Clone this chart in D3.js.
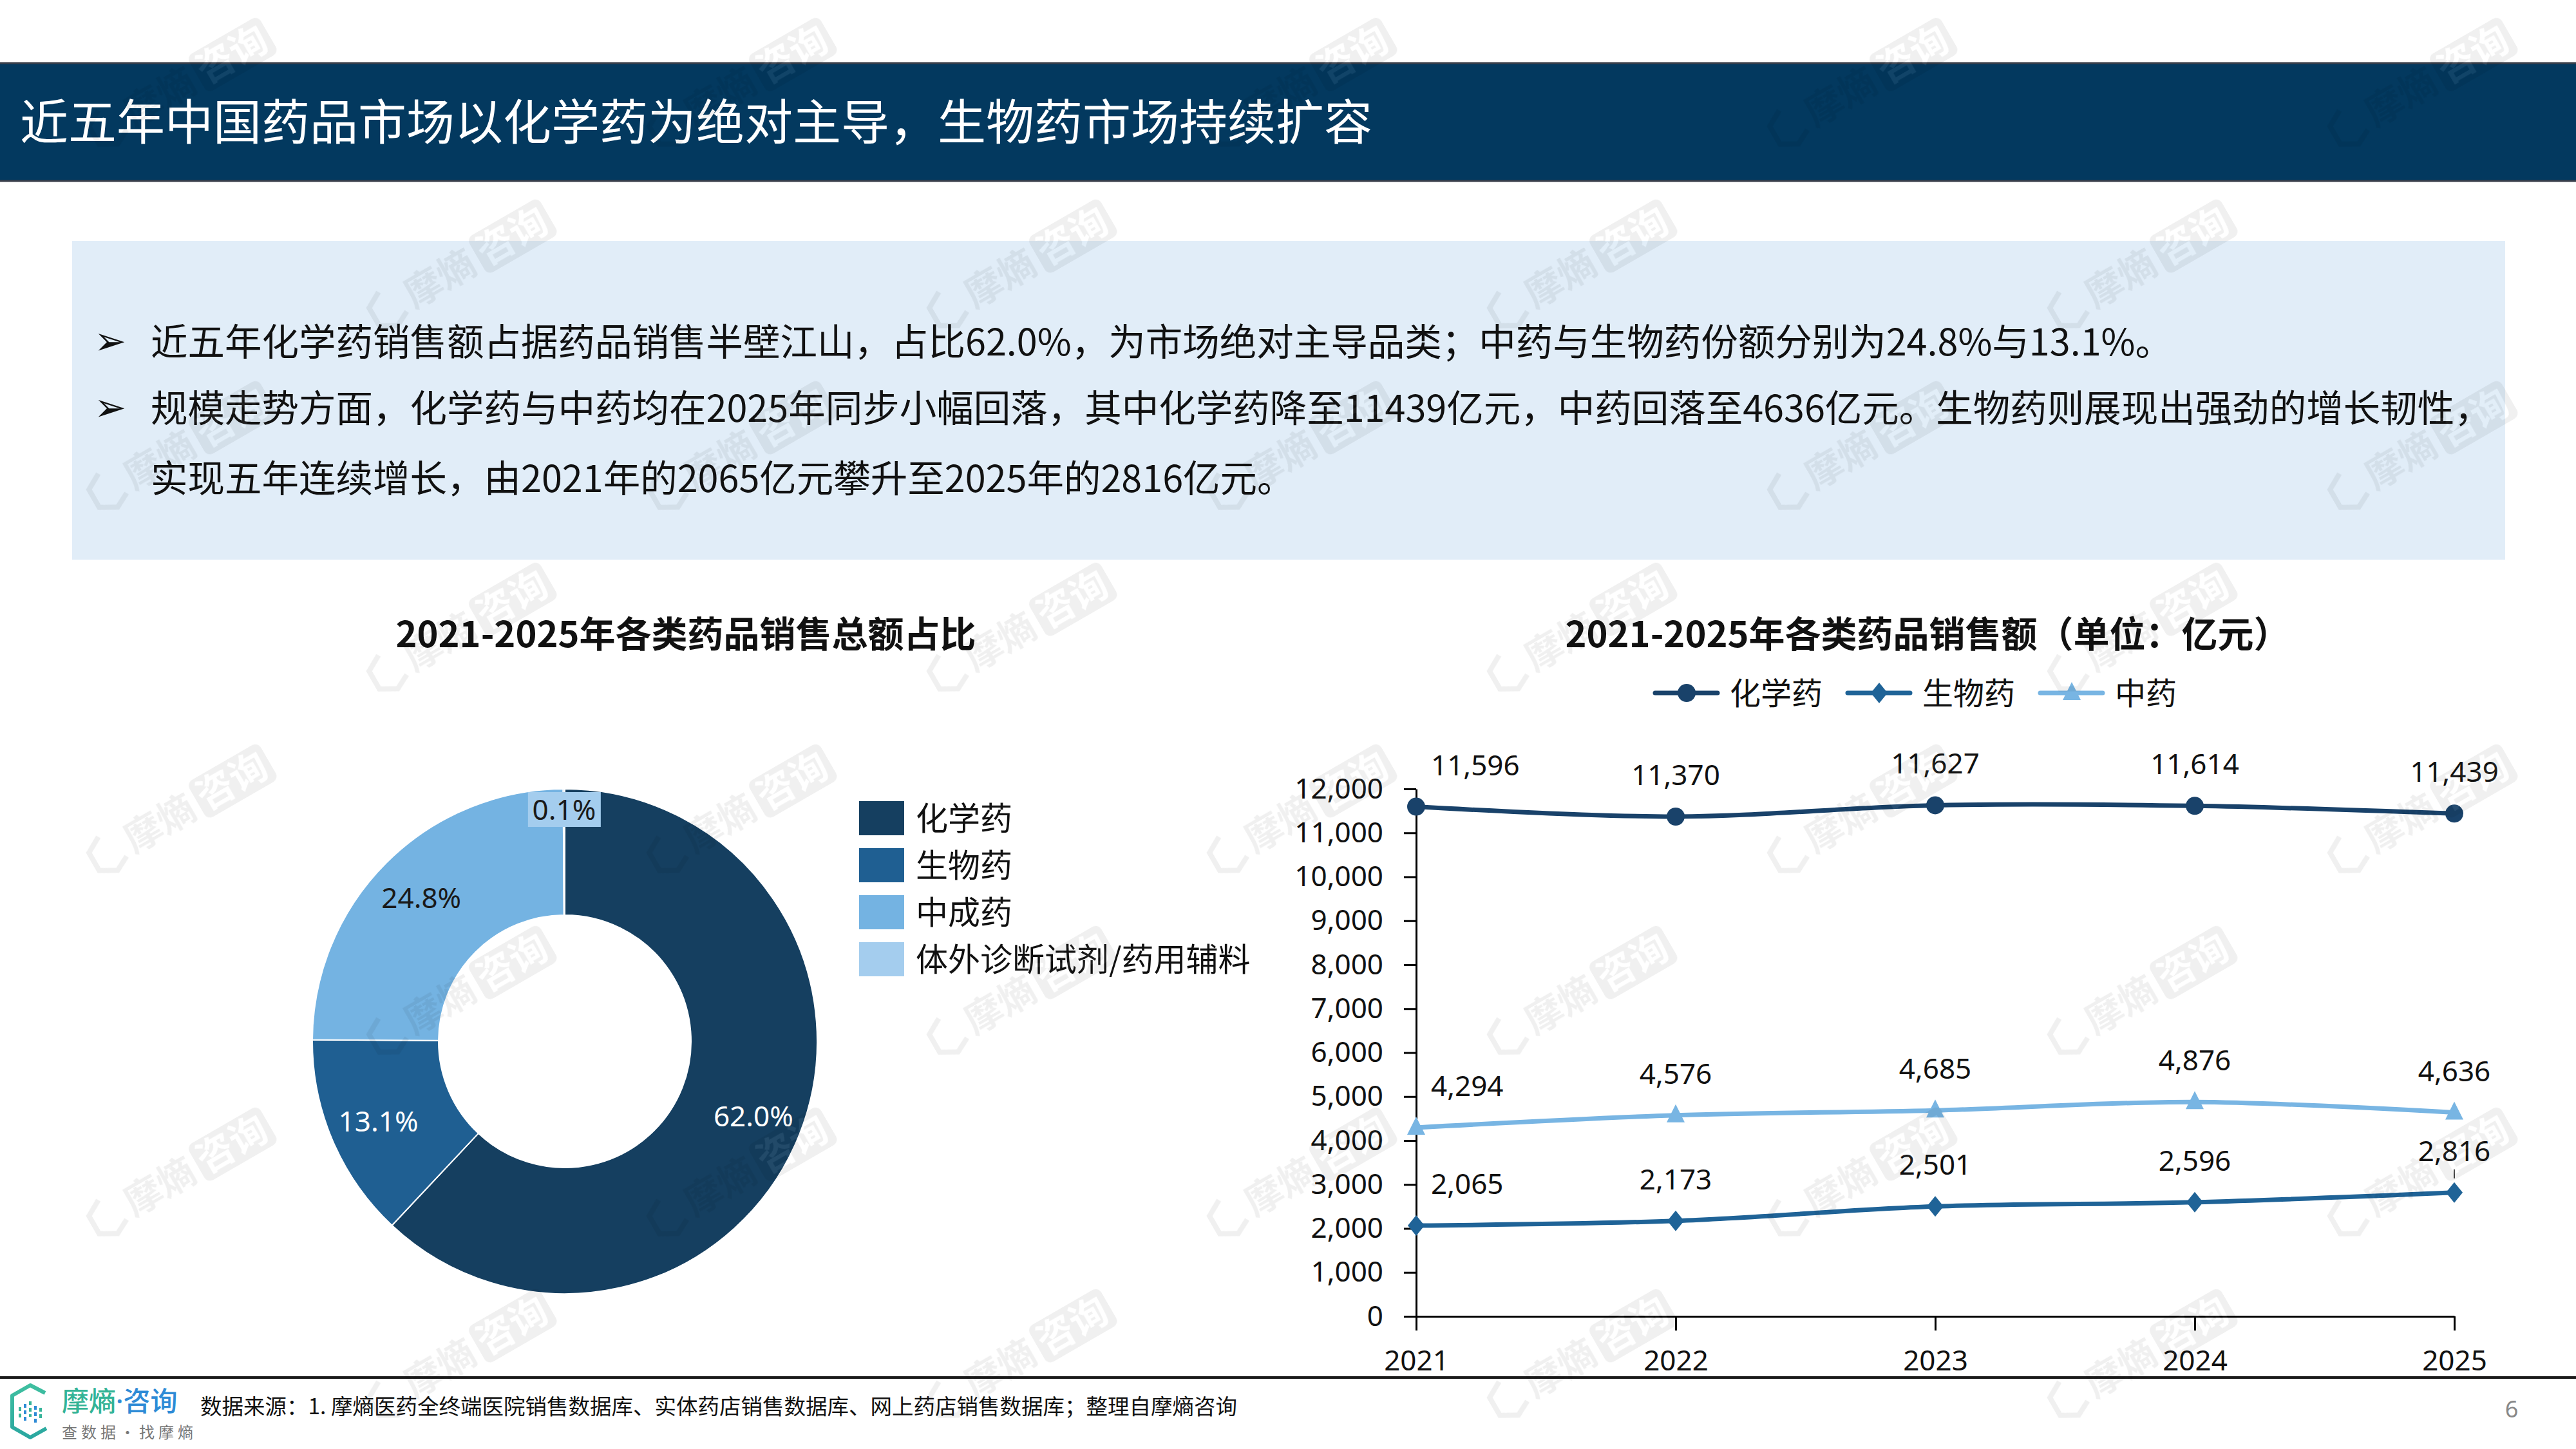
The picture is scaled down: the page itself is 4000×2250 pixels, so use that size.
<!DOCTYPE html>
<html>
<head>
<meta charset="utf-8">
<script src="https://cdn.jsdelivr.net/npm/d3@7"></script>
<style>
  body { margin: 0; background: #fff; }
  svg { display: block; }
</style>
</head>
<body>
<script>
// ---- data ----
const pageTitle = "近五年中国药品市场以化学药为绝对主导，生物药市场持续扩容";
const bulletLines = [
  { bullet: true,  text: "近五年化学药销售额占据药品销售半壁江山，占比62.0%，为市场绝对主导品类；中药与生物药份额分别为24.8%与13.1%。" },
  { bullet: true,  text: "规模走势方面，化学药与中药均在2025年同步小幅回落，其中化学药降至11439亿元，中药回落至4636亿元。生物药则展现出强劲的增长韧性，" },
  { bullet: false, text: "实现五年连续增长，由2021年的2065亿元攀升至2025年的2816亿元。" }
];

const pieTitle = "2021-2025年各类药品销售总额占比";
const shareCategories = ["化学药", "生物药", "中成药", "体外诊断试剂/药用辅料"];
const shareValues = [62.0, 13.1, 24.8, 0.1];
const shareColors = ["#153F60", "#1F5F92", "#74B3E2", "#A4CDEE"];

const lineTitle = "2021-2025年各类药品销售额（单位：亿元）";
const years = ["2021", "2022", "2023", "2024", "2025"];
const seriesNames = ["化学药", "生物药", "中药"];
const chemValues = [11596, 11370, 11627, 11614, 11439];
const bioValues = [2065, 2173, 2501, 2596, 2816];
const tcmValues = [4294, 4576, 4685, 4876, 4636];
const seriesColors = ["#19426A", "#1F6397", "#78B5E3"];
const seriesMarkers = ["circle", "diamond", "triangle"];
const yTicks = d3.range(0, 12001, 1000);

const sourceText = "数据来源：1. 摩熵医药全终端医院销售数据库、实体药店销售数据库、网上药店销售数据库；整理自摩熵咨询";
const pageNumber = "6";

// ---- page ----
const W = 4000, H = 2250;
const CJK = "'Noto Sans CJK SC', 'Noto Sans', sans-serif";
const NUM = "'Noto Sans', 'Noto Sans CJK SC', sans-serif";

const svg = d3.select("body").append("svg")
  .attr("width", W).attr("height", H)
  .attr("viewBox", [0, 0, W, H]);

svg.append("rect").attr("width", W).attr("height", H).attr("fill", "#fff");

// title bar
svg.append("rect").attr("x", 0).attr("y", 97).attr("width", W).attr("height", 185).attr("fill", "#03395F");
svg.append("line").attr("x1", 0).attr("x2", W).attr("y1", 98).attr("y2", 98).attr("stroke", "#3a3f4a").attr("stroke-width", 3);
svg.append("line").attr("x1", 0).attr("x2", W).attr("y1", 281).attr("y2", 281).attr("stroke", "#3a3f4a").attr("stroke-width", 3);
svg.append("text")
  .attr("x", 31).attr("y", 217)
  .attr("font-family", CJK).attr("font-size", 75).attr("fill", "#fff")
  .text(pageTitle);

// summary box
svg.append("rect").attr("x", 112).attr("y", 374).attr("width", 3778).attr("height", 495).attr("fill", "#E1EDF8");
const bulletY = [552, 655, 764];
bulletLines.forEach(function(d, i) {
  if (d.bullet) {
    svg.append("text")
      .attr("x", 146).attr("y", bulletY[i] - 2)
      .attr("font-family", "'DejaVu Sans', sans-serif").attr("font-size", 60).attr("fill", "#111")
      .text("\u27A2");
  }
  svg.append("text")
    .attr("x", 234).attr("y", bulletY[i])
    .attr("font-family", CJK).attr("font-size", 57.5).attr("fill", "#111")
    .text(d.text);
});

// ---- donut ----
svg.append("text")
  .attr("x", 1065).attr("y", 1005)
  .attr("text-anchor", "middle")
  .attr("font-family", CJK).attr("font-size", 56).attr("font-weight", 700).attr("fill", "#111")
  .text(pieTitle);

const donut = svg.append("g").attr("transform", "translate(877,1617)");
const pie = d3.pie().sort(null).value(function(d) { return d; });
const arcs = pie(shareValues);
const arc = d3.arc().innerRadius(196).outerRadius(392);

donut.selectAll("path")
  .data(arcs)
  .enter().append("path")
  .attr("d", arc)
  .attr("fill", function(d, i) { return shareColors[i]; })
  .attr("stroke", "#fff")
  .attr("stroke-width", 2);

const labelArc = d3.arc().innerRadius(315).outerRadius(315);
const smallArc = d3.arc().innerRadius(360).outerRadius(360);
const labelFill = ["#fff", "#fff", "#1a1a1a", "#1a1a1a"];

arcs.forEach(function(d, i) {
  const small = shareValues[i] < 1;
  const c = (small ? smallArc : labelArc).centroid(d);
  const txt = shareValues[i].toFixed(1) + "%";
  if (small) {
    donut.append("rect")
      .attr("x", c[0] - 56).attr("y", c[1] - 27)
      .attr("width", 113).attr("height", 54)
      .attr("fill", shareColors[i]);
  }
  donut.append("text")
    .attr("x", c[0]).attr("y", c[1])
    .attr("dy", "0.36em")
    .attr("text-anchor", "middle")
    .attr("font-family", NUM).attr("font-size", 44)
    .attr("fill", labelFill[i])
    .text(txt);
});

// donut legend
const pieLegend = svg.append("g").attr("transform", "translate(1334,1244)");
shareCategories.forEach(function(name, i) {
  const g = pieLegend.append("g").attr("transform", "translate(0," + (i * 73) + ")");
  g.append("rect").attr("width", 70).attr("height", 53).attr("fill", shareColors[i]);
  g.append("text")
    .attr("x", 88).attr("y", 45)
    .attr("font-family", CJK).attr("font-size", 50).attr("fill", "#111")
    .text(name);
});

// ---- line chart ----
svg.append("text")
  .attr("x", 2993).attr("y", 1005)
  .attr("text-anchor", "middle")
  .attr("font-family", CJK).attr("font-size", 56).attr("font-weight", 700).attr("fill", "#111")
  .text(lineTitle);

const x = d3.scalePoint().domain(years).range([2199, 3811]);
const y = d3.scaleLinear().domain([0, 12000]).range([2044, 1225]);

const yAxis = svg.append("g")
  .attr("transform", "translate(2199,0)")
  .call(d3.axisLeft(y).tickValues(yTicks).tickFormat(d3.format(",")).tickSize(19).tickPadding(32).tickSizeOuter(0));
yAxis.selectAll("path, line").attr("stroke", "#000").attr("stroke-width", 3);
yAxis.selectAll("text").attr("font-family", NUM).attr("font-size", 44).attr("fill", "#111");

const xAxis = svg.append("g")
  .attr("transform", "translate(0,2044)")
  .call(d3.axisBottom(x).tickSize(22).tickPadding(31).tickSizeOuter(0));
xAxis.selectAll("path, line").attr("stroke", "#000").attr("stroke-width", 3);
xAxis.selectAll("text").attr("font-family", NUM).attr("font-size", 44).attr("fill", "#111");

const series = [chemValues, bioValues, tcmValues];

function marker(sel, type, color) {
  if (type === "circle") {
    sel.append("circle").attr("r", 14).attr("fill", color);
  } else if (type === "diamond") {
    sel.append("path").attr("d", "M0,-16L13,0L0,16L-13,0Z").attr("fill", color);
  } else {
    sel.append("path").attr("d", "M0,-17L14,11L-14,11Z").attr("fill", color);
  }
}

const line = d3.line()
  .x(function(d, i) { return x(years[i]); })
  .y(function(d) { return y(d); })
  .curve(d3.curveCatmullRom.alpha(0));

series.forEach(function(vals, s) {
  const g = svg.append("g");
  g.append("path")
    .attr("d", line(vals))
    .attr("fill", "none")
    .attr("stroke", seriesColors[s])
    .attr("stroke-width", 7)
    .attr("stroke-linecap", "round");

  vals.forEach(function(v, i) {
    const m = g.append("g").attr("transform", "translate(" + x(years[i]) + "," + y(v) + ")");
    marker(m, seriesMarkers[s], seriesColors[s]);

    const first = i === 0;
    g.append("text")
      .attr("x", x(years[i]) + (first ? 23 : 0))
      .attr("y", y(v) - 49)
      .attr("text-anchor", first ? "start" : "middle")
      .attr("font-family", NUM).attr("font-size", 44).attr("fill", "#111")
      .text(d3.format(",")(v));
  });
});

// small leader line for the last biologic label
svg.append("line")
  .attr("x1", x(years[4])).attr("x2", x(years[4]))
  .attr("y1", y(bioValues[4]) - 36).attr("y2", y(bioValues[4]) - 22)
  .attr("stroke", "#444").attr("stroke-width", 2);

// line legend
const lineLegend = svg.append("g").attr("transform", "translate(2570,1076)");
seriesNames.forEach(function(name, i) {
  const g = lineLegend.append("g").attr("transform", "translate(" + (i * 299) + ",0)");
  g.append("line")
    .attr("x1", 0).attr("x2", 97)
    .attr("stroke", seriesColors[i]).attr("stroke-width", 7).attr("stroke-linecap", "round");
  const m = g.append("g").attr("transform", "translate(49,0)");
  marker(m, seriesMarkers[i], seriesColors[i]);
  g.append("text")
    .attr("x", 116).attr("y", 18)
    .attr("font-family", CJK).attr("font-size", 48).attr("fill", "#111")
    .text(name);
});

// ---- footer ----
svg.append("line").attr("x1", 0).attr("x2", W).attr("y1", 2139).attr("y2", 2139).attr("stroke", "#1a1a1a").attr("stroke-width", 4);

const logo = svg.append("g");
const grad = svg.append("defs").append("linearGradient").attr("id", "logoGrad")
  .attr("x1", 0).attr("y1", 0).attr("x2", 0).attr("y2", 1);
grad.append("stop").attr("offset", "0%").attr("stop-color", "#3FBFA0");
grad.append("stop").attr("offset", "100%").attr("stop-color", "#2AA7A0");
logo.append("path")
  .attr("d", "M70,2163L47,2151L19,2167L19,2216L47,2232L72,2218")
  .attr("fill", "none").attr("stroke", "url(#logoGrad)").attr("stroke-width", 6).attr("stroke-linejoin", "round");
[[31, 2185, 2203], [39, 2180, 2210], [47, 2176, 2200], [55, 2183, 2212], [63, 2186, 2204]].forEach(function(b, i) {
  logo.append("line")
    .attr("x1", b[0]).attr("x2", b[0]).attr("y1", b[1]).attr("y2", b[2])
    .attr("stroke", i % 2 ? "#2E8BD6" : "#37B49A").attr("stroke-width", 4).attr("stroke-dasharray", "6,4");
});
const brand = logo.append("text")
  .attr("x", 96).attr("y", 2191)
  .attr("font-family", CJK).attr("font-size", 42).attr("font-weight", 500);
brand.append("tspan").attr("fill", "#33B396").text("摩熵");
brand.append("tspan").attr("fill", "#2E8BD6").attr("font-family", NUM).text("·");
brand.append("tspan").attr("fill", "#2E8BD6").text("咨询");
logo.append("text")
  .attr("x", 96).attr("y", 2233)
  .attr("font-family", CJK).attr("font-size", 24).attr("letter-spacing", 6).attr("fill", "#777")
  .text("查数据·找摩熵");

svg.append("text")
  .attr("x", 311).attr("y", 2196)
  .attr("font-family", CJK).attr("font-size", 33.5).attr("fill", "#111")
  .text(sourceText);

svg.append("text")
  .attr("x", 3900).attr("y", 2201)
  .attr("text-anchor", "middle")
  .attr("font-family", NUM).attr("font-size", 36).attr("fill", "#888")
  .text(pageNumber);

// ---- watermarks (kept fully inside the page) ----
const wm = svg.append("g").attr("opacity", 0.06).attr("pointer-events", "none");
for (let r = 0; r < 8; r++) {
  for (let c = 0; c < 6; c++) {
    const cx = 250 + c * 870 + (r % 2 ? 435 : 0);
    const cy = 150 + r * 282;
    if (cx > 3780) continue;
    const g = wm.append("g").attr("transform", "translate(" + cx + "," + cy + ") rotate(-30)");
    g.append("path")
      .attr("d", "M-95,-30L-120,-16L-120,16L-95,30L-72,18")
      .attr("fill", "none").attr("stroke", "#000").attr("stroke-width", 8);
    g.append("text").attr("x", -60).attr("y", 20)
      .attr("font-family", CJK).attr("font-size", 58).attr("font-weight", 700).attr("fill", "#000")
      .text("摩熵");
    g.append("rect").attr("x", 65).attr("y", -34).attr("width", 128).attr("height", 66).attr("rx", 10).attr("fill", "#000");
    g.append("text").attr("x", 70).attr("y", 19)
      .attr("font-family", CJK).attr("font-size", 58).attr("font-weight", 700).attr("fill", "#fff")
      .text("咨询");
  }
}
</script>
</body>
</html>
